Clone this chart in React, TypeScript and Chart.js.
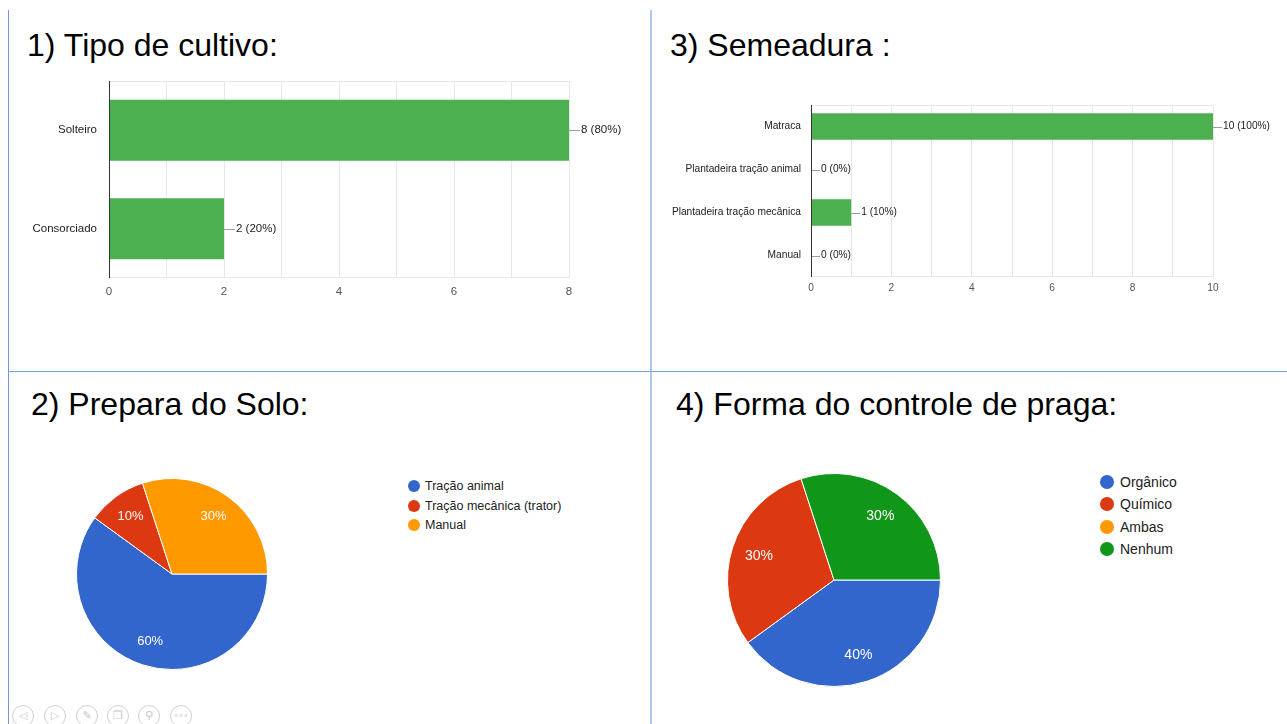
import React, { useEffect, useRef } from "react";
import { Chart, registerables } from "chart.js";

Chart.register(...registerables);

const FONT = "Arial, 'Liberation Sans', Helvetica, sans-serif";
const RESPONDENTS = 10;

// 1) Tipo de cultivo
const cultivoLabels = ["Solteiro", "Consorciado"];
const cultivoValues = [8, 2];
const cultivoAxisMax = 8;

// 3) Semeadura
const semeaduraLabels = [
  "Matraca",
  "Plantadeira tração animal",
  "Plantadeira tração mecânica",
  "Manual",
];
const semeaduraValues = [10, 0, 1, 0];
const semeaduraAxisMax = 10;

// 2) Prepara do Solo
const soloLabels = ["Tração animal", "Tração mecânica (trator)", "Manual"];
const soloValues = [6, 1, 3];
const soloColors = ["#3366CC", "#DC3912", "#FF9900"];

// 4) Forma do controle de praga
const pragaLabels = ["Orgânico", "Químico", "Ambas", "Nenhum"];
const pragaValues = [4, 3, 0, 3];
const pragaColors = ["#3366CC", "#DC3912", "#FF9900", "#109618"];

const tickStep = 2;
const BAR_GREEN = "#4CAF50";

const barLabelPlugin = {
  id: "barLabels",
  afterDatasetsDraw(chart: any, _args: any, opts: any) {
    const ctx = chart.ctx;
    const meta = chart.getDatasetMeta(0);
    const vals = chart.data.datasets[0].data;
    const a = chart.chartArea;
    ctx.save();
    ctx.font = `${opts.size}px ${FONT}`;
    ctx.textBaseline = "middle";
    ctx.textAlign = "left";
    meta.data.forEach((el: any, i: number) => {
      const v = vals[i];
      const x = el.x;
      const y = Math.round(el.y) + 0.5;
      ctx.strokeStyle = "#9e9e9e";
      ctx.lineWidth = 1;
      ctx.beginPath();
      ctx.moveTo(x, y);
      ctx.lineTo(x + opts.gap - 1, y);
      ctx.stroke();
      ctx.fillStyle = "#222";
      ctx.fillText(`${v} (${Math.round((v / RESPONDENTS) * 100)}%)`, x + opts.gap, el.y);
    });
    ctx.strokeStyle = "#333";
    ctx.lineWidth = 1;
    ctx.beginPath();
    ctx.moveTo(a.left + 0.5, a.top);
    ctx.lineTo(a.left + 0.5, a.bottom);
    ctx.stroke();
    ctx.restore();
  },
  beforeDatasetsDraw(chart: any) {
    const ctx = chart.ctx;
    const a = chart.chartArea;
    ctx.save();
    ctx.strokeStyle = "#e8e8e8";
    ctx.lineWidth = 1;
    ctx.beginPath();
    ctx.moveTo(a.left, Math.round(a.top) + 0.5);
    ctx.lineTo(a.right, Math.round(a.top) + 0.5);
    ctx.moveTo(a.left, Math.round(a.bottom) - 0.5);
    ctx.lineTo(a.right, Math.round(a.bottom) - 0.5);
    ctx.stroke();
    ctx.restore();
  },
};

const pieLabelPlugin = {
  id: "pieLabels",
  afterDatasetsDraw(chart: any, _args: any, opts: any) {
    const ctx = chart.ctx;
    const meta = chart.getDatasetMeta(0);
    const data: number[] = chart.data.datasets[0].data;
    const total = data.reduce((s, v) => s + v, 0);
    ctx.save();
    ctx.font = `${opts.size}px ${FONT}`;
    ctx.fillStyle = "#ffffff";
    ctx.textAlign = "center";
    ctx.textBaseline = "middle";
    meta.data.forEach((arc: any, i: number) => {
      const v = data[i];
      if (!v) return;
      const p = arc.getProps(["x", "y", "startAngle", "endAngle", "outerRadius"]);
      const mid = (p.startAngle + p.endAngle) / 2;
      const r = p.outerRadius * 0.74;
      ctx.fillText(
        `${Math.round((v / total) * 100)}%`,
        p.x + Math.cos(mid) * r,
        p.y + Math.sin(mid) * r
      );
    });
    ctx.restore();
  },
};

type BarProps = {
  labels: string[];
  values: number[];
  max: number;
  left: number;
  top: number;
  width: number;
  height: number;
  yWidth: number;
  xHeight: number;
  padding: { top: number; right: number; bottom: number; left: number };
  fontSize: number;
  yTickPad: number;
  xTickPad: number;
  gap: number;
};

function BarChart(p: BarProps) {
  const ref = useRef<HTMLCanvasElement | null>(null);
  useEffect(() => {
    if (!ref.current) return;
    const chart = new Chart(ref.current, {
      type: "bar",
      data: {
        labels: p.labels,
        datasets: [
          {
            data: p.values,
            backgroundColor: BAR_GREEN,
            borderWidth: 0,
            barPercentage: 0.62,
            categoryPercentage: 1,
          },
        ],
      },
      options: {
        indexAxis: "y",
        animation: false,
        responsive: false,
        maintainAspectRatio: false,
        devicePixelRatio: 1,
        layout: { padding: p.padding },
        plugins: {
          legend: { display: false },
          tooltip: { enabled: false },
          barLabels: { size: p.fontSize, gap: p.gap },
        } as any,
        scales: {
          x: {
            min: 0,
            max: p.max,
            ticks: {
              stepSize: 1,
              autoSkip: false,
              maxRotation: 0,
              padding: p.xTickPad,
              color: "#555",
              font: { size: p.fontSize, family: FONT },
              callback: (v: any) => (Number(v) % tickStep === 0 ? String(v) : ""),
            },
            grid: { color: "#e8e8e8", drawTicks: false },
            border: { display: false },
            afterFit: (s: any) => {
              s.height = p.xHeight;
              s.paddingLeft = 0;
              s.paddingRight = 0;
            },
          },
          y: {
            ticks: {
              padding: p.yTickPad,
              color: "#222",
              font: { size: p.fontSize, family: FONT },
            },
            grid: { display: false, drawTicks: false },
            border: { display: false },
            afterFit: (s: any) => {
              s.width = p.yWidth;
              s.paddingTop = 0;
              s.paddingBottom = 0;
            },
          },
        },
      } as any,
      plugins: [barLabelPlugin],
    });
    return () => chart.destroy();
  }, []);
  return (
    <canvas
      ref={ref}
      width={p.width}
      height={p.height}
      style={{ position: "absolute", left: p.left, top: p.top, width: p.width, height: p.height }}
    />
  );
}

type PieProps = {
  labels: string[];
  values: number[];
  colors: string[];
  left: number;
  top: number;
  size: number;
  fontSize: number;
};

function PieChart(p: PieProps) {
  const ref = useRef<HTMLCanvasElement | null>(null);
  useEffect(() => {
    if (!ref.current) return;
    const chart = new Chart(ref.current, {
      type: "pie",
      data: {
        labels: p.labels,
        datasets: [
          {
            data: p.values,
            backgroundColor: p.colors,
            borderColor: "#ffffff",
            borderWidth: 1,
          },
        ],
      },
      options: {
        animation: false,
        responsive: false,
        maintainAspectRatio: false,
        devicePixelRatio: 1,
        rotation: 90,
        layout: { padding: 0 },
        plugins: {
          legend: { display: false },
          tooltip: { enabled: false },
          pieLabels: { size: p.fontSize },
        } as any,
      } as any,
      plugins: [pieLabelPlugin],
    });
    return () => chart.destroy();
  }, []);
  return (
    <canvas
      ref={ref}
      width={p.size}
      height={p.size}
      style={{ position: "absolute", left: p.left, top: p.top, width: p.size, height: p.size }}
    />
  );
}

function Legend(props: {
  labels: string[];
  colors: string[];
  markerX: number;
  textX: number;
  firstY: number;
  step: number;
  radius: number;
  fontSize: number;
}) {
  return (
    <>
      {props.labels.map((l, i) => {
        const cy = props.firstY + i * props.step;
        return (
          <React.Fragment key={l}>
            <div
              style={{
                position: "absolute",
                left: props.markerX - props.radius,
                top: cy - props.radius,
                width: props.radius * 2,
                height: props.radius * 2,
                borderRadius: "50%",
                background: props.colors[i],
              }}
            />
            <div
              style={{
                position: "absolute",
                left: props.textX,
                top: cy - 10,
                height: 20,
                lineHeight: "20px",
                fontSize: props.fontSize,
                fontFamily: FONT,
                color: "#222",
                whiteSpace: "nowrap",
              }}
            >
              {l}
            </div>
          </React.Fragment>
        );
      })}
    </>
  );
}

function Title(props: { text: string; left: number; baseline: number }) {
  const size = 32;
  return (
    <div
      style={{
        position: "absolute",
        left: props.left,
        top: props.baseline - size * 0.8465,
        fontSize: size,
        lineHeight: `${size}px`,
        fontFamily: FONT,
        color: "#000",
        whiteSpace: "nowrap",
      }}
    >
      {props.text}
    </div>
  );
}

const iconGlyphs = ["◁", "▷", "✎", "❐", "⚲", "∘∘∘"];
const iconXs = [23, 55, 87, 118, 149, 181];

export default function App() {
  useEffect(() => {
    document.body.style.margin = "0";
  }, []);
  return (
    <div
      style={{
        position: "absolute",
        left: 0,
        top: 0,
        width: 1287,
        height: 724,
        overflow: "hidden",
        background: "#ffffff",
      }}
    >
      {/* panel dividers */}
      <div style={{ position: "absolute", left: 8, top: 10, width: 1, height: 714, background: "#7097de" }} />
      <div style={{ position: "absolute", left: 650, top: 10, width: 2, height: 714, background: "#b0c6f0" }} />
      <div style={{ position: "absolute", left: 8, top: 371, width: 1279, height: 1, background: "#7a9ee0" }} />

      <Title text="1) Tipo de cultivo:" left={27} baseline={56} />
      <Title text="3) Semeadura :" left={670} baseline={56} />
      <Title text="2) Prepara do Solo:" left={31} baseline={415} />
      <Title text="4) Forma do controle de praga:" left={676} baseline={415} />

      <BarChart
        labels={cultivoLabels}
        values={cultivoValues}
        max={cultivoAxisMax}
        left={8}
        top={70}
        width={640}
        height={250}
        yWidth={101}
        xHeight={30}
        padding={{ top: 11, right: 79, bottom: 12, left: 0 }}
        fontSize={11.5}
        yTickPad={12}
        xTickPad={7}
        gap={12}
      />

      <BarChart
        labels={semeaduraLabels}
        values={semeaduraValues}
        max={semeaduraAxisMax}
        left={652}
        top={95}
        width={635}
        height={215}
        yWidth={159}
        xHeight={25}
        padding={{ top: 10, right: 74, bottom: 8, left: 0 }}
        fontSize={10.2}
        yTickPad={10}
        xTickPad={5}
        gap={10}
      />

      <PieChart labels={soloLabels} values={soloValues} colors={soloColors} left={76} top={478} size={192} fontSize={13} />
      <Legend
        labels={soloLabels}
        colors={soloColors}
        markerX={413.5}
        textX={425}
        firstY={485.7}
        step={19.8}
        radius={6}
        fontSize={12.5}
      />

      <PieChart labels={pragaLabels} values={pragaValues} colors={pragaColors} left={727} top={473} size={214} fontSize={14} />
      <Legend
        labels={pragaLabels}
        colors={pragaColors}
        markerX={1106.5}
        textX={1120}
        firstY={481.7}
        step={22.5}
        radius={7}
        fontSize={14}
      />

      {iconXs.map((x, i) => (
        <div
          key={i}
          style={{
            position: "absolute",
            left: x - 11,
            top: 705,
            width: 20,
            height: 20,
            borderRadius: "50%",
            border: "1px solid #d0d0d0",
            color: "#c8c8c8",
            fontSize: i === 5 ? 8 : 11,
            lineHeight: "20px",
            textAlign: "center",
            fontFamily: "'DejaVu Sans', sans-serif",
          }}
        >
          {iconGlyphs[i]}
        </div>
      ))}
    </div>
  );
}
